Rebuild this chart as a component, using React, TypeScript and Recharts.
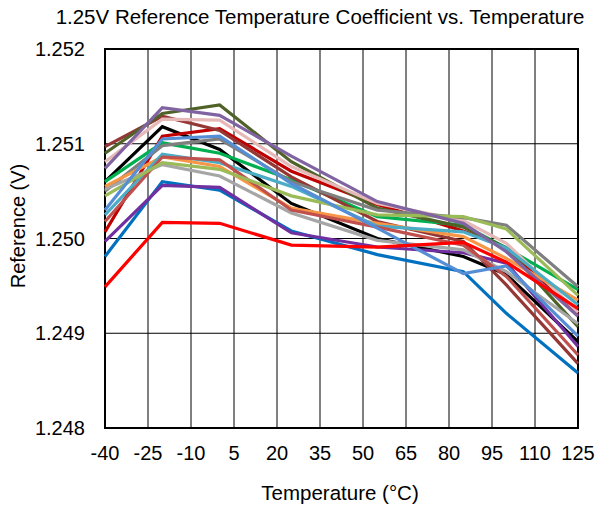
import React from 'react';
import { LineChart, Line, XAxis, YAxis, CartesianGrid, ReferenceArea } from 'recharts';

// measured temperatures (°C)
const temps = [-40, -20, 0, 25, 55, 85, 100, 125];
const xTicks = [-40, -25, -10, 5, 20, 35, 50, 65, 80, 95, 110, 125];
const yTicks = [1.248, 1.249, 1.25, 1.251, 1.252];

// reference output per unit (V)
const unitBlack = [1.2506, 1.25118, 1.25094, 1.25037, 1.25, 1.24981, 1.24962, 1.24891];
const unitDarkRed = [1.25007, 1.25108, 1.25116, 1.25071, 1.25036, 1.25008, 1.2499, 1.2492];
const unitGreen = [1.2506, 1.25101, 1.2509, 1.25062, 1.25023, 1.25014, 1.2499, 1.24946];
const unitBlue = [1.24981, 1.2506, 1.25051, 1.25008, 1.24983, 1.24965, 1.24921, 1.24858];
const unitPurple = [1.24997, 1.25056, 1.25054, 1.25006, 1.24991, 1.24985, 1.24974, 1.24886];
const unitBrown = [1.25097, 1.25129, 1.25114, 1.25065, 1.25018, 1.24997, 1.24951, 1.24868];
const unitOlive = [1.2509, 1.25132, 1.25141, 1.25081, 1.25032, 1.25012, 1.2499, 1.24907];
const unitPink = [1.25081, 1.25126, 1.25125, 1.25076, 1.25037, 1.25019, 1.24995, 1.24922];
const unitGray = [1.2505, 1.25098, 1.25105, 1.2506, 1.2503, 1.25022, 1.25014, 1.24949];
const unitLightGray = [1.25052, 1.25078, 1.25066, 1.25027, 1.24998, 1.24988, 1.24965, 1.2491];
const unitOrange = [1.25055, 1.25086, 1.25076, 1.25032, 1.25016, 1.25002, 1.24979, 1.24935];
const unitAqua = [1.25025, 1.25089, 1.2508, 1.25055, 1.25013, 1.25007, 1.2499, 1.2493];
const unitRose = [1.25018, 1.25086, 1.25083, 1.2503, 1.25012, 1.24993, 1.2496, 1.24877];
const unitLime = [1.25045, 1.2508, 1.25073, 1.25045, 1.25025, 1.25023, 1.2501, 1.2494];
const unitLavender = [1.25074, 1.25138, 1.2513, 1.25087, 1.25039, 1.25016, 1.24986, 1.24918];
const unitSteel = [1.2503, 1.25105, 1.25108, 1.25058, 1.25011, 1.24963, 1.24971, 1.24897];
const unitRed = [1.24949, 1.25017, 1.25016, 1.24993, 1.24991, 1.24996, 1.24975, 1.24926];

const series = [
  { key: 'black', color: '#000000', values: unitBlack },
  { key: 'darkRed', color: '#C00000', values: unitDarkRed },
  { key: 'green', color: '#00B050', values: unitGreen },
  { key: 'blue', color: '#0070C0', values: unitBlue },
  { key: 'purple', color: '#7030A0', values: unitPurple },
  { key: 'brown', color: '#953735', values: unitBrown },
  { key: 'olive', color: '#4F6228', values: unitOlive },
  { key: 'pink', color: '#E6B9B8', values: unitPink },
  { key: 'gray', color: '#7F7F7F', values: unitGray },
  { key: 'lightGray', color: '#A6A6A6', values: unitLightGray },
  { key: 'orange', color: '#F79646', values: unitOrange },
  { key: 'aqua', color: '#4BACC6', values: unitAqua },
  { key: 'rose', color: '#C0504D', values: unitRose },
  { key: 'lime', color: '#9BBB59', values: unitLime },
  { key: 'lavender', color: '#8064A2', values: unitLavender },
  { key: 'steel', color: '#558ED5', values: unitSteel },
  { key: 'red', color: '#FF0000', values: unitRed },
];

const data = temps.map((t, i) => {
  const row: Record<string, number> = { t };
  series.forEach((s) => {
    row[s.key] = s.values[i];
  });
  return row;
});

const font = '"Liberation Sans", Arial, sans-serif';

export default function App() {
  return (
    <div style={{ position: 'absolute', left: 0, top: 0, width: 613, height: 511, background: '#fff', fontFamily: font }}>
      <div
        style={{
          position: 'absolute',
          left: 0,
          width: 640,
          top: 5,
          textAlign: 'center',
          fontSize: 20.5,
          color: '#000',
          whiteSpace: 'nowrap',
        }}
      >
        1.25V Reference Temperature Coefficient vs. Temperature
      </div>
      <LineChart
        width={613}
        height={511}
        data={data}
        margin={{ top: 49, right: 35, left: 0, bottom: 0 }}
      >
        <CartesianGrid stroke="#000" strokeWidth={1} />
        <XAxis
          dataKey="t"
          type="number"
          domain={[-40, 125]}
          ticks={xTicks}
          interval={0}
          height={83}
          axisLine={false}
          tickLine={false}
          tickSize={0}
          tickMargin={18}
          tick={{ fill: '#000', fontSize: 20, fontFamily: font }}
        />
        <YAxis
          type="number"
          domain={[1.248, 1.252]}
          ticks={yTicks}
          interval={0}
          width={105}
          axisLine={false}
          tickLine={false}
          tickSize={0}
          tickMargin={20}
          tickFormatter={(v: number) => v.toFixed(3)}
          tick={{ fill: '#000', fontSize: 20, fontFamily: font }}
        />
        {series.map((s) => (
          <Line
            key={s.key}
            dataKey={s.key}
            stroke={s.color}
            strokeWidth={3.2}
            dot={false}
            type="linear"
            isAnimationActive={false}
          />
        ))}
        <ReferenceArea
          x1={-40}
          x2={125}
          y1={1.248}
          y2={1.252}
          fill="none"
          fillOpacity={0}
          stroke="#000"
          strokeWidth={2}
          ifOverflow="visible"
        />
      </LineChart>
      <div
        style={{
          position: 'absolute',
          left: 180,
          width: 320,
          top: 481,
          textAlign: 'center',
          fontSize: 20.5,
          color: '#000',
        }}
      >
        Temperature (°C)
      </div>
      <div
        style={{
          position: 'absolute',
          left: 19 - 80,
          top: 226 - 12,
          width: 160,
          textAlign: 'center',
          fontSize: 20,
          color: '#000',
          transform: 'rotate(-90deg)',
          transformOrigin: '80px 12px',
        }}
      >
        Reference (V)
      </div>
    </div>
  );
}
